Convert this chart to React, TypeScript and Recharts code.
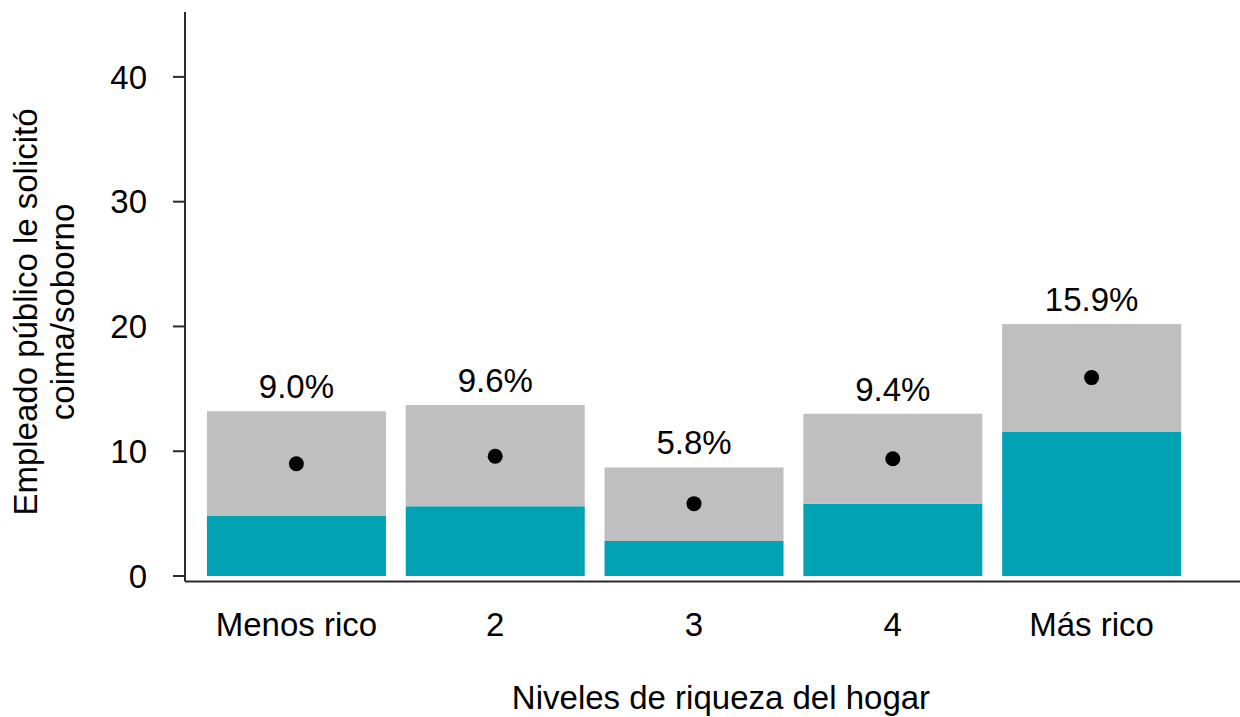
import React from 'react';
import { ComposedChart, Bar, Line, XAxis, YAxis, LabelList } from 'recharts';

const categories = ['Menos rico', '2', '3', '4', 'Más rico'];
const lowerBound = [4.8, 5.6, 2.8, 5.8, 11.55];
const upperBound = [13.2, 13.7, 8.7, 13.0, 20.2];
const meanValues = [9.0, 9.6, 5.8, 9.4, 15.9];
const yTicks = [0, 10, 20, 30, 40];

const TEAL = '#00A2B3';
const GREY = '#BFBFBF';
const AXIS = '#2b2b2b';
const FONT = '"Liberation Sans", Arial, sans-serif';

const data = categories.map((name, i) => ({
  name,
  lower: lowerBound[i],
  band: +(upperBound[i] - lowerBound[i]).toFixed(2),
  mean: meanValues[i],
}));

const App: React.FC = () => {
  return (
    <div style={{ position: 'relative', width: 1240, height: 717, fontFamily: FONT }}>
      <style>{`body{margin:0}`}</style>
      <ComposedChart
        width={1240}
        height={717}
        data={data}
        margin={{ top: 12, right: 0, bottom: 0, left: 0 }}
        barCategoryGap="5%"
        barGap={0}
      >
        <XAxis
          dataKey="name"
          interval={0}
          height={135.5}
          padding={{ left: 12, right: 49 }}
          tickLine={false}
          tickSize={6}
          tickMargin={25}
          axisLine={{ stroke: AXIS, strokeWidth: 2 }}
          tick={{ fill: '#000', fontSize: 33 }}
        />
        <YAxis
          width={185}
          domain={[-0.44, 45.2]}
          allowDataOverflow
          ticks={yTicks}
          tickSize={12}
          tickMargin={26}
          tickLine={{ stroke: AXIS, strokeWidth: 2 }}
          axisLine={{ stroke: AXIS, strokeWidth: 2 }}
          tick={{ fill: '#000', fontSize: 33 }}
        />
        <Bar dataKey="lower" stackId="ci" fill={TEAL} isAnimationActive={false} />
        <Bar dataKey="band" stackId="ci" fill={GREY} isAnimationActive={false}>
          <LabelList
            dataKey="mean"
            position="top"
            offset={13}
            fill="#000"
            fontSize={33}
            formatter={(v: any) => `${Number(v).toFixed(1)}%`}
          />
        </Bar>
        <Line
          dataKey="mean"
          stroke="none"
          dot={{ r: 7.5, fill: '#000', stroke: 'none' }}
          activeDot={false}
          isAnimationActive={false}
        />
      </ComposedChart>
      <svg
        width={1240}
        height={717}
        style={{ position: 'absolute', left: 0, top: 0, pointerEvents: 'none' }}
      >
        <g fontSize={33} fill="#000" fontFamily={FONT}>
          <text transform="translate(37,312) rotate(-90)" textAnchor="middle">
            Empleado público le solicitó
          </text>
          <text transform="translate(74,312) rotate(-90)" textAnchor="middle">
            coima/soborno
          </text>
          <text x={721} y={709} textAnchor="middle">
            Niveles de riqueza del hogar
          </text>
        </g>
      </svg>
    </div>
  );
};

export default App;
